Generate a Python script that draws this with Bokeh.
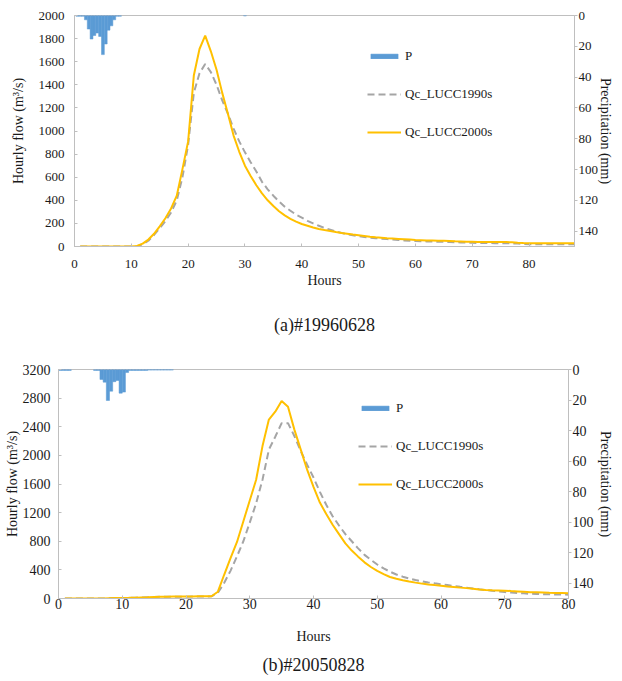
from bokeh.plotting import figure
from bokeh.models import (Range1d, LinearAxis, Legend, LegendItem, Title,
                          FixedTicker)
from bokeh.layouts import column, row
from bokeh.embed import file_html
from bokeh.resources import INLINE

FONT = "Liberation Serif"

# ---------------- Event (a) #19960628 ----------------
hours_a = list(range(1, 89))
q2000_a = [0, 0, 0, 0, 0, 0, 0, 0, 0, 0,
           5, 25, 60, 110, 175, 245, 330, 440, 670, 910,
           1480, 1710, 1825, 1690, 1530, 1330, 1150, 960, 820, 700,
           610, 530, 460, 400, 350, 305, 270, 240, 215, 195,
           180, 165, 152, 143, 135, 125, 117, 110, 103, 97,
           91, 85, 80, 76, 72, 69, 66, 63, 60, 57,
           55, 53, 52, 50, 49, 47, 45, 44, 42, 41,
           40, 40, 39, 39, 38, 38, 37, 33, 30, 29,
           29, 29, 29, 29, 29, 29, 29, 29]
q1990_a = [0, 0, 0, 0, 0, 0, 0, 0, 0, 0,
           0, 20, 50, 100, 160, 220, 295, 400, 600, 880,
           1330, 1500, 1580, 1510, 1400, 1265, 1150, 1020, 910, 815,
           730, 650, 560, 495, 440, 390, 345, 310, 275, 250,
           222, 200, 180, 160, 145, 130, 118, 106, 97, 90,
           83, 77, 72, 68, 64, 60, 57, 53, 50, 47,
           46, 44, 43, 41, 40, 38, 37, 35, 34, 32,
           31, 30, 30, 29, 29, 28, 27, 25, 22, 20,
           20, 20, 20, 20, 20, 20, 20, 20]
p_hours_a = [0.5, 1.0, 1.5, 2.0, 2.5, 3.0, 3.5, 4.0, 4.5, 5.0, 5.5, 6.0,
             6.5, 7.0, 7.5, 8.0, 30.0]
p_a = [0.5, 0.5, 0.5, 2.8, 8.8, 15.3, 13.0, 11.4, 13.6, 25.4, 18.5, 9.5,
       6.7, 2.8, 0.5, 0.5, 0.3]

# ---------------- Event (b) #20050828 ----------------
hours_b = list(range(1, 81))
q2000_b = [0, 0, 0, 0, 0, 0, 0,
           5, 6, 7, 9, 12, 15, 18, 22, 25, 26, 27, 27, 28,
           29, 30, 31, 32, 95, 335, 568, 790, 1080, 1370,
           1660, 2130, 2500, 2610, 2760, 2680, 2360, 2080, 1800, 1560,
           1340, 1180, 1030, 900, 770, 670, 585, 505, 440, 385,
           340, 300, 275, 255, 237, 222, 208, 197, 187, 178,
           168, 160, 152, 145, 137, 127, 120, 116, 113, 110,
           104, 99, 94, 89, 86, 83, 80, 78, 76, 74]
q1990_b = [0, 0, 0, 0, 0, 0, 0,
           5, 6, 7, 9, 12, 15, 18, 21, 23, 24, 25, 25, 26,
           27, 27, 28, 30, 80, 220, 390, 590, 800, 1060,
           1330, 1660, 2080, 2260, 2450, 2450, 2270, 2060, 1870, 1690,
           1490, 1310, 1150, 1020, 900, 800, 700, 610, 540, 475,
           420, 375, 335, 305, 280, 258, 240, 225, 212, 200,
           188, 175, 163, 152, 140, 128, 118, 108, 98, 90,
           84, 78, 72, 66, 63, 60, 58, 56, 55, 54]
p_hours_b = [0.25, 0.75, 1.25, 1.75, 5.75, 6.25, 6.75, 7.25, 7.75, 8.25,
             8.75, 9.25, 9.75, 10.25, 10.75, 11.25, 11.75, 12.25, 12.75,
             13.25, 13.75, 14.25, 14.75, 15.25, 15.75, 16.25, 16.75, 17.25, 17.75]
p_b = [0.6, 0.6, 0.6, 0.6, 0.6, 0.6, 6.5, 8.3, 20.3, 14.2,
       8.0, 7.2, 15.5, 14.8, 2.0, 0.6, 0.6, 0.6, 0.6,
       0.6, 0.6, 0.4, 0.4, 0.4, 0.4, 0.4, 0.4, 0.4, 0.4]

x_ticks = list(range(0, 81, 10))
y_ticks_a = list(range(0, 2001, 200))
y_ticks_b = list(range(0, 3201, 400))
p_ticks = list(range(0, 141, 20))

series_names = ["P", "Qc_LUCC1990s", "Qc_LUCC2000s"]
right_title = "Precipitation (mm)"

BLUE = "#5B9BD5"
GRAY = "#A5A5A5"
YELLOW = "#FFC000"
AXIS = "#BFBFBF"
TEXT = "#1a1a1a"


def style_axis(ax, tick_size, tick_in, tick_out, lab_standoff, axlab_standoff):
    ax.axis_line_color = AXIS
    ax.major_tick_line_color = AXIS
    ax.minor_tick_line_color = None
    ax.major_tick_in = tick_in
    ax.major_tick_out = tick_out
    ax.major_label_text_font = FONT
    ax.major_label_text_font_size = tick_size
    ax.major_label_text_color = TEXT
    ax.major_label_standoff = lab_standoff
    ax.axis_label_text_font = FONT
    ax.axis_label_text_font_size = "14px"
    ax.axis_label_text_font_style = "normal"
    ax.axis_label_text_color = TEXT
    ax.axis_label_standoff = axlab_standoff


def make_chart(hours, q1990, q2000, p_hours, p_vals, x_end, y_end, y_ticks,
               caption, width, height, bl, br, bt, bb, tick_size,
               x_st, y_st, r_st, cap_standoff, cap_offset, legend_loc):
    p = figure(width=width, height=height, output_backend="svg",
               toolbar_location=None, title=None,
               x_range=Range1d(0, x_end), y_range=Range1d(0, y_end),
               min_border_left=bl, min_border_right=br,
               min_border_top=bt, min_border_bottom=bb)
    p.extra_y_ranges = {"P": Range1d(start=150, end=0)}
    p.xgrid.visible = False
    p.ygrid.visible = False
    p.outline_line_color = AXIS
    p.background_fill_color = "white"
    p.border_fill_color = "white"

    p.xaxis.ticker = FixedTicker(ticks=x_ticks)
    p.yaxis.ticker = FixedTicker(ticks=y_ticks)
    p.xaxis.axis_label = "Hours"
    p.yaxis.axis_label = "Hourly flow (m\u00b3/s)"
    style_axis(p.xaxis[0], tick_size, 3, 0, x_st[0], x_st[1])
    style_axis(p.yaxis[0], tick_size, 3, 0, y_st[0], y_st[1])

    rax = LinearAxis(y_range_name="P", ticker=FixedTicker(ticks=p_ticks),
                     axis_label=right_title)
    style_axis(rax, tick_size, 0, r_st[0], r_st[1], r_st[2])
    p.add_layout(rax, "right")

    bars = p.vbar(x=p_hours, width=0.5, top=0, bottom=p_vals,
                  y_range_name="P", fill_color=BLUE, line_color=BLUE,
                  line_width=0.5)
    l90 = p.line(hours, q1990, line_color=GRAY, line_width=2,
                 line_dash="7 4")
    l00 = p.line(hours, q2000, line_color=YELLOW, line_width=2)

    legend = Legend(items=[LegendItem(label=series_names[0], renderers=[bars]),
                           LegendItem(label=series_names[1], renderers=[l90]),
                           LegendItem(label=series_names[2], renderers=[l00])],
                    location=legend_loc, orientation="vertical",
                    glyph_width=34, glyph_height=6, label_height=20,
                    label_standoff=4, spacing=18, padding=0, margin=0,
                    border_line_alpha=0, background_fill_alpha=0,
                    label_text_font=FONT, label_text_font_size="13px",
                    label_text_color=TEXT)
    p.add_layout(legend)

    cap = Title(text=caption, align="center", text_font=FONT,
                text_font_size="18px", text_font_style="normal",
                text_color=TEXT, standoff=cap_standoff, offset=cap_offset)
    p.add_layout(cap, "below")
    return p


p1 = make_chart(hours_a, q1990_a, q2000_a, p_hours_a, p_a, 88, 2000, y_ticks_a,
                "(a)#19960628", 622, 356, 74, 48, 15, 109, "13px",
                (13, 2), (10, 10), (3, 1, -3), 44, 3, (293, 104))
p2 = make_chart(hours_b, q1990_b, q2000_b, p_hours_b, p_b, 80, 3200, y_ticks_b,
                "(b)#20050828", 622, 325, 58, 54, 13, 83, "14px",
                (0, 17), (8, 0), (3, 1, 1), 13, 15, (300, 104))

layout = column(row(p1), row(p2))
open("out.html", "w").write(file_html(layout, INLINE))
